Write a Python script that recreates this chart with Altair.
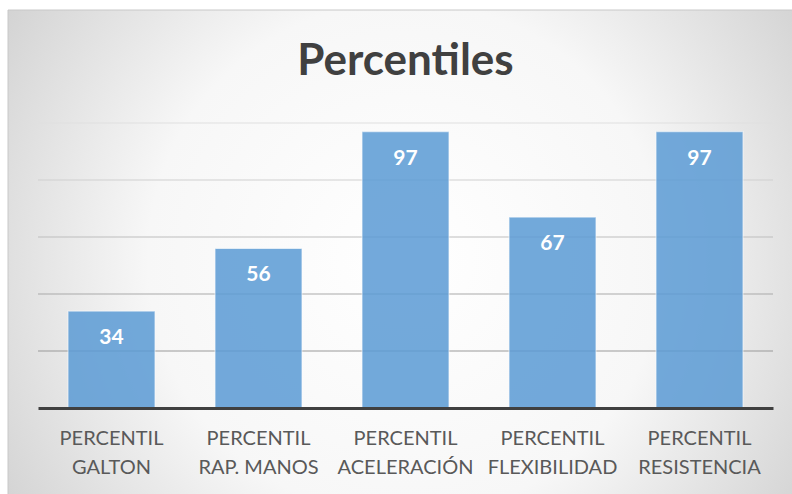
import altair as alt
import pandas as pd

categories = ["PERCENTIL\nGALTON", "PERCENTIL\nRAP. MANOS", "PERCENTIL\nACELERACIÓN",
              "PERCENTIL\nFLEXIBILIDAD", "PERCENTIL\nRESISTENCIA"]
values = [34, 56, 97, 67, 97]
grid_values = [20, 40, 60, 80, 100]
grid_colors = ["#999999", "#aaaaaa", "#bdbdbd", "#cfcfcf", "#e0e0e0"]
title_text = "Percentiles"

FONT = "Lato"
W, H = 735, 285

df = pd.DataFrame({"cat": categories, "val": values})
grid_df = pd.DataFrame({"g": grid_values, "c": grid_colors})
bg_df = pd.DataFrame({"k": [0]})

bg = alt.Chart(bg_df).mark_rect(
    fill={
        "gradient": "radial",
        "x1": 0.5, "y1": 0.5, "r1": 0,
        "x2": 0.5, "y2": 0.5, "r2": 0.72,
        "stops": [
            {"offset": 0, "color": "#ffffff"},
            {"offset": 0.45, "color": "#f7f7f7"},
            {"offset": 1, "color": "#c2c2c2"},
        ],
    },
    stroke="#c8c8c8",
    strokeWidth=1,
).encode(
    x=alt.value(-30), x2=alt.value(W + 30),
    y=alt.value(-113), y2=alt.value(H + 100),
)

grid = alt.Chart(grid_df).mark_rule(strokeWidth=1.2).encode(
    y=alt.Y("g:Q", scale=alt.Scale(domain=[0, 100], nice=False), axis=None),
    x=alt.value(0), x2=alt.value(W),
    color=alt.Color("c:N", scale=None),
)

xenc = alt.X(
    "cat:N", sort=None, title=None,
    scale=alt.Scale(paddingInner=0.408, paddingOuter=0.204),
    axis=alt.Axis(
        labelExpr="split(datum.label, '\\n')",
        labelAngle=0, labelFont=FONT, labelFontSize=20, labelColor="#595959",
        labelLineHeight=29, labelPadding=20, ticks=False,
        domainColor="#404040", domainWidth=3, zindex=1, labelLimit=300,
    ),
)
yenc = alt.Y("val:Q", scale=alt.Scale(domain=[0, 100], nice=False), axis=None)

bars = alt.Chart(df).mark_bar(
    color="#5b9bd5", opacity=0.85, stroke="#ffffff", strokeOpacity=0.6, strokeWidth=1.2
).encode(x=xenc, y=yenc)

labels = alt.Chart(df).mark_text(
    font=FONT, fontSize=21, fontWeight="bold", color="#ffffff",
    baseline="middle", dy=27,
).encode(x=alt.X("cat:N", sort=None), y=yenc, text="val:Q")

chart = alt.layer(bg, grid, bars, labels).properties(
    width=W, height=H,
    autosize=alt.AutoSizeParams(type="none"),
    padding={"left": 38, "top": 123, "right": 19, "bottom": 86},
    background="#ffffff",
    title=alt.TitleParams(
        title_text, font=FONT, fontSize=44, fontWeight="bold", color="#404040",
        anchor="middle", baseline="alphabetic", offset=-109, zindex=1,
    ),
).configure_view(stroke=None)

chart.save("out.html", embed_options={"renderer": "svg", "actions": False})
